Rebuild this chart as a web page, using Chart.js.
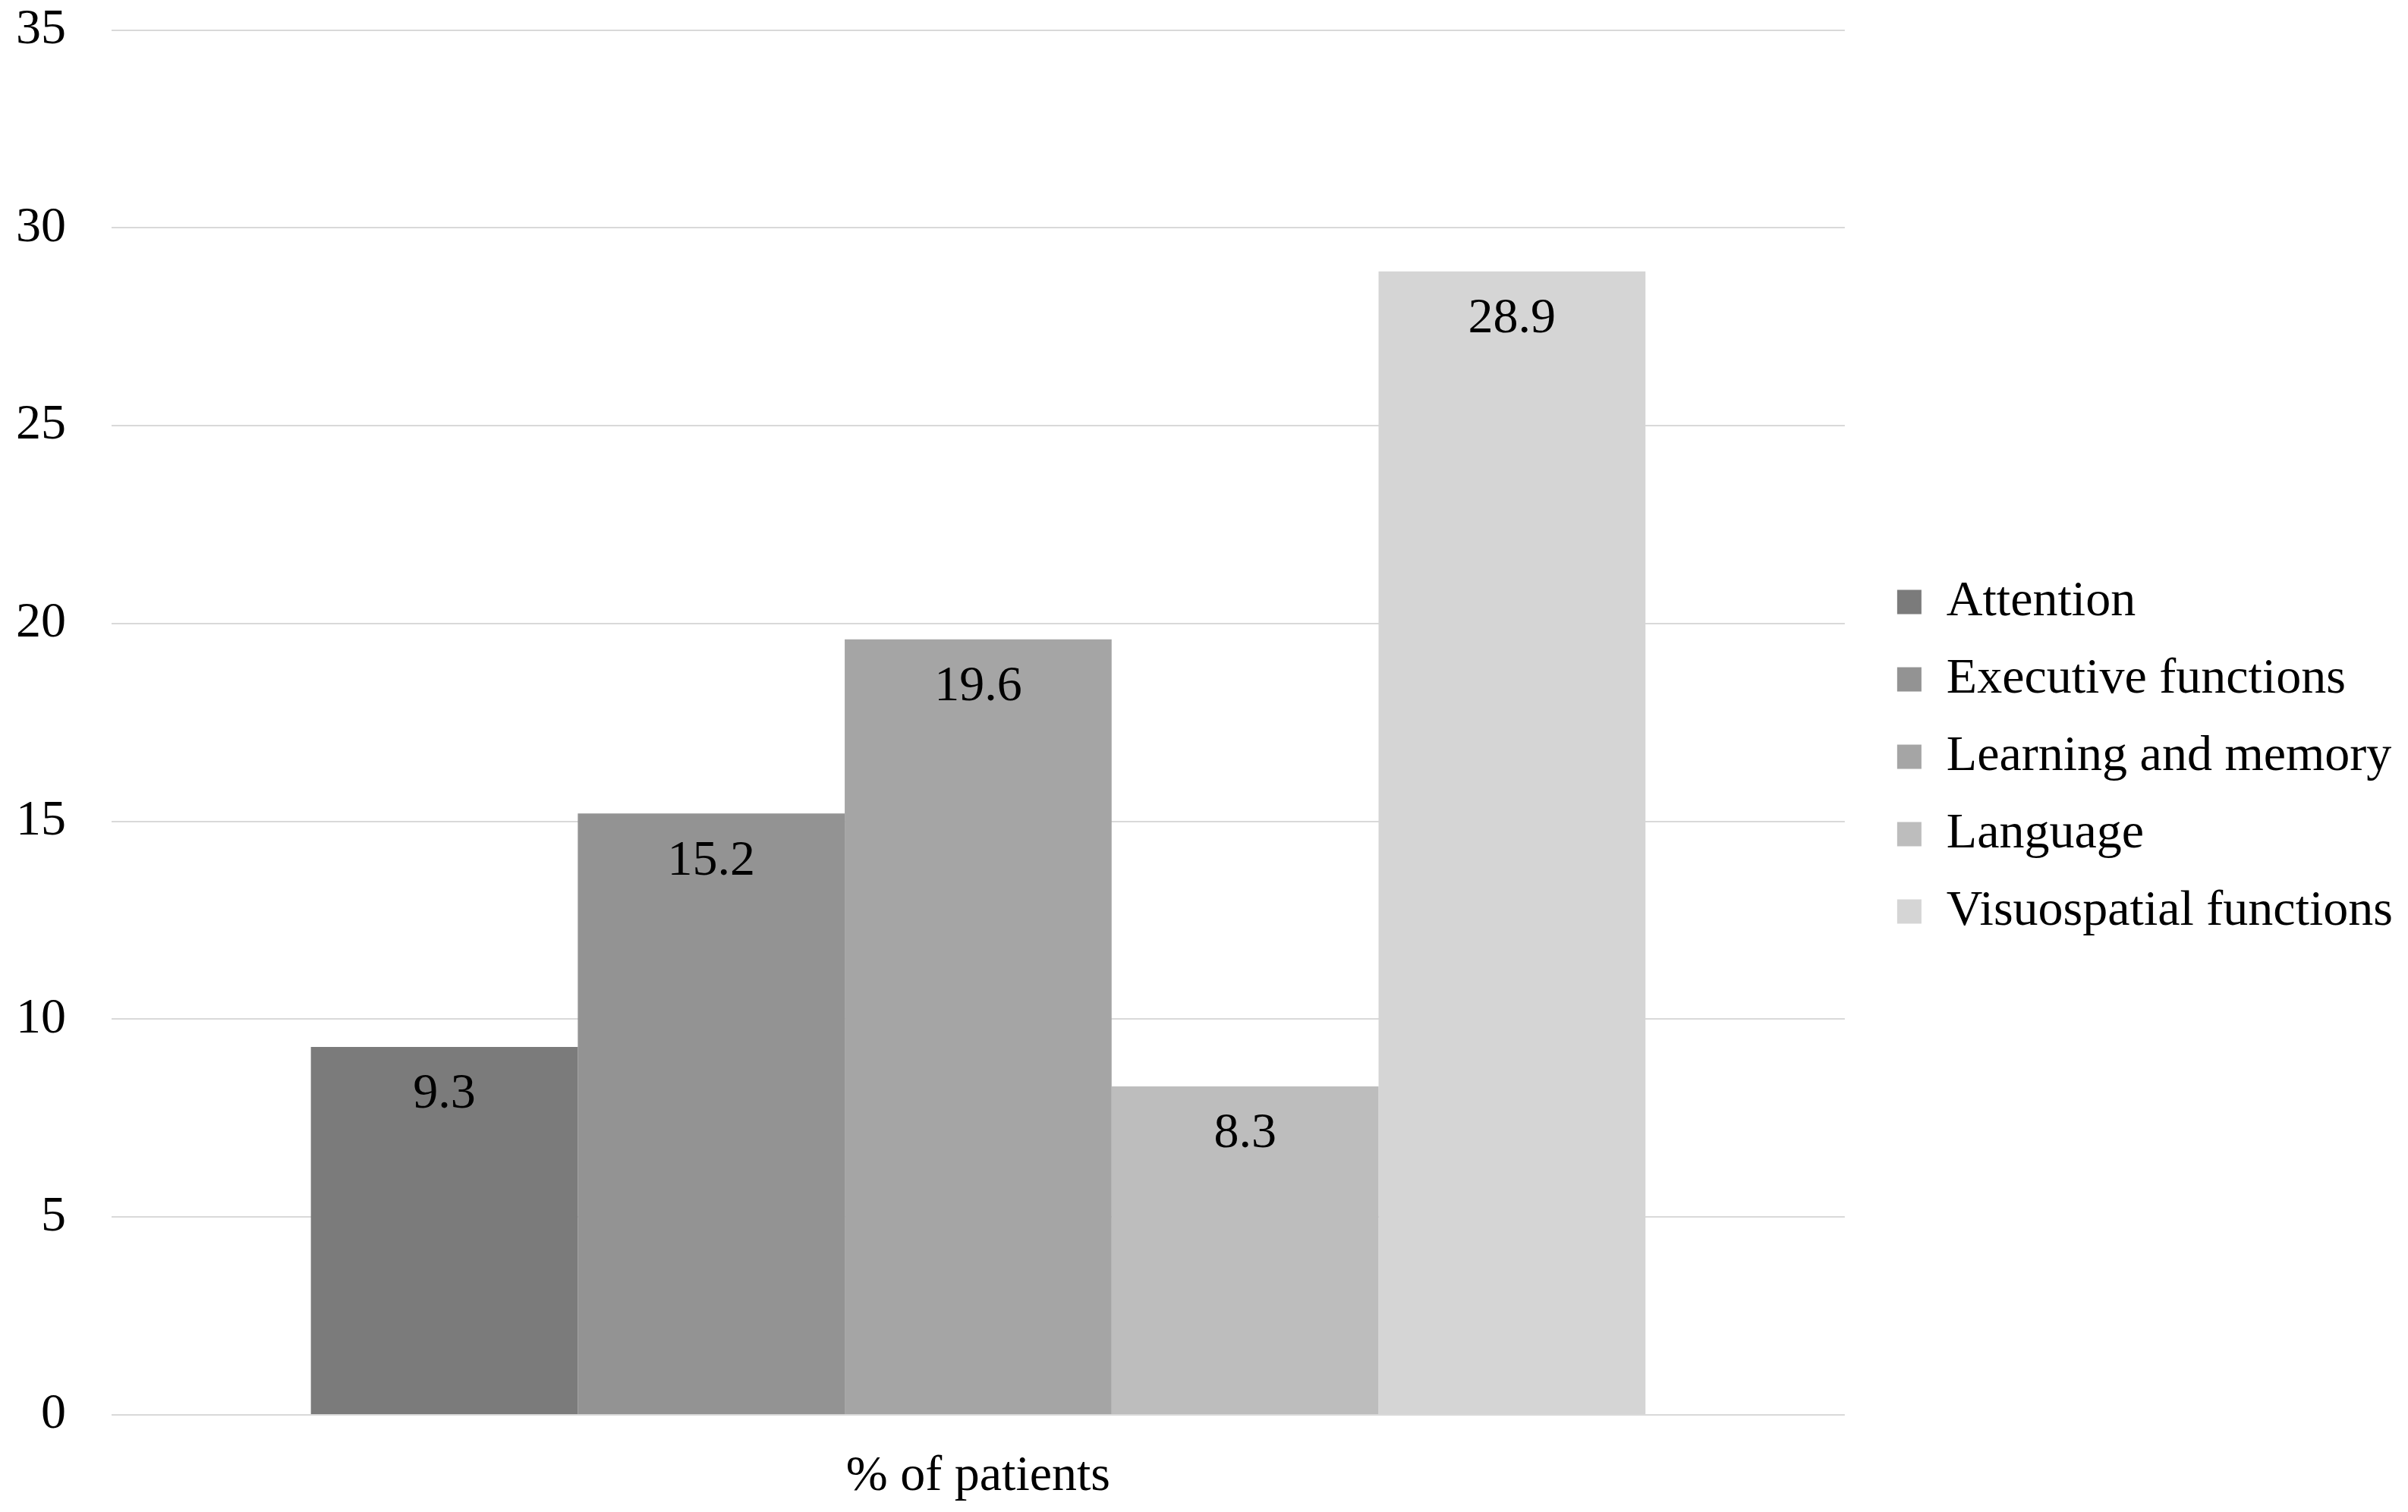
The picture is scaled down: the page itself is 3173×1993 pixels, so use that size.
<!DOCTYPE html>
<html>
<head>
<meta charset="utf-8">
<script src="https://cdn.jsdelivr.net/npm/chart.js@4.4.1/dist/chart.umd.min.js"></script>
<style>
html,body{margin:0;padding:0;background:#fff;}
#wrap{width:3173px;height:1993px;}
</style>
</head>
<body>
<div id="wrap"><canvas id="c" width="3173" height="1993"></canvas></div>
<script>
const categories = ["% of patients"];
const seriesNames = ["Attention", "Executive functions", "Learning and memory", "Language", "Visuospatial functions"];
const seriesValues = [9.3, 15.2, 19.6, 8.3, 28.9];
const seriesColors = ["#7b7b7b", "#939393", "#a5a5a5", "#bdbdbd", "#d5d5d5"];
const yTicks = [0, 5, 10, 15, 20, 25, 30, 35];

const FONT = "'Liberation Serif', 'Times New Roman', serif";

const valueLabels = {
  id: 'valueLabels',
  afterDatasetsDraw(chart) {
    const ctx = chart.ctx;
    ctx.save();
    ctx.font = "66px " + FONT;
    ctx.fillStyle = "#000";
    ctx.textAlign = "center";
    ctx.textBaseline = "middle";
    chart.data.datasets.forEach((ds, i) => {
      const meta = chart.getDatasetMeta(i);
      meta.data.forEach((bar, j) => {
        ctx.fillText(String(ds.data[j]), bar.x, bar.y + 63);
      });
    });
    ctx.restore();
  }
};

new Chart(document.getElementById('c'), {
  type: 'bar',
  data: {
    labels: categories,
    datasets: seriesNames.map((n, i) => ({
      label: n,
      data: [seriesValues[i]],
      backgroundColor: seriesColors[i],
      borderWidth: 0,
      categoryPercentage: 0.77,
      barPercentage: 1.0
    }))
  },
  options: {
    responsive: false,
    animation: false,
    devicePixelRatio: 1,
    layout: { padding: { top: 2, right: 10, bottom: 0, left: 0 } },
    plugins: {
      tooltip: { enabled: false },
      legend: {
        position: 'right',
        align: 'center',
        maxWidth: 900,
        labels: {
          font: { family: FONT, size: 66 },
          color: '#000',
          boxWidth: 32,
          boxHeight: 32,
          padding: 36
        }
      }
    },
    scales: {
      x: {
        grid: { display: false, drawTicks: true, tickLength: 35 },
        border: { display: false },
        ticks: { font: { family: FONT, size: 66 }, color: '#000', padding: 7 },
        afterFit(axis) { axis.height = 128; }
      },
      y: {
        min: 0,
        max: 35,
        afterBuildTicks(axis) { axis.ticks = yTicks.map(v => ({ value: v })); },
        grid: { color: '#d9d9d9', lineWidth: 2, drawTicks: true, tickLength: 60, tickColor: 'rgba(0,0,0,0)' },
        border: { display: false },
        ticks: { font: { family: FONT, size: 66 }, color: '#000', padding: 0 },
        afterFit(axis) { axis.width = 147; }
      },
      gap: {
        type: 'linear',
        position: 'right',
        display: true,
        grid: { display: false, drawTicks: false },
        border: { display: false },
        ticks: { display: false },
        afterFit(axis) { axis.width = 33; }
      }
    }
  },
  plugins: [valueLabels]
});
</script>
</body>
</html>
